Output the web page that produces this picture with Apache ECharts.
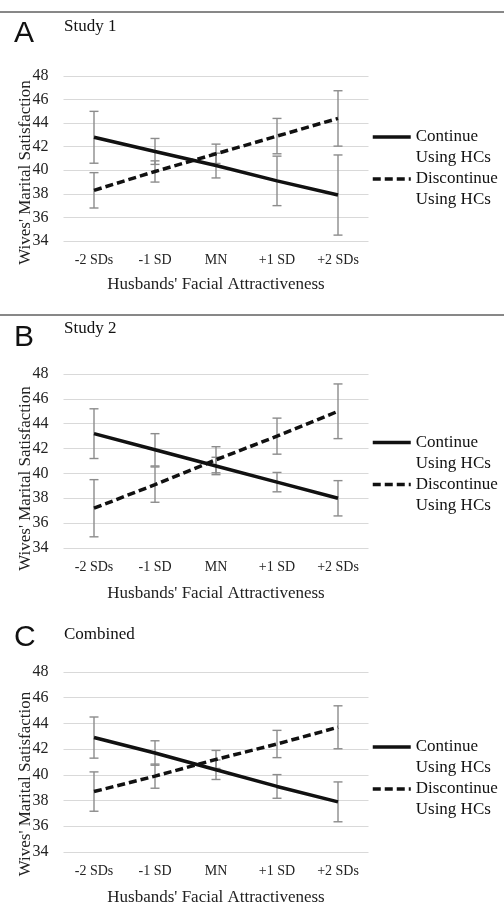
<!DOCTYPE html>
<html>
<head>
<meta charset="utf-8">
<script src="https://cdn.jsdelivr.net/npm/echarts@6/dist/echarts.min.js"></script>
<style>
html,body{margin:0;padding:0;background:#fff;}
#chart{width:504px;height:903px;}
</style>
</head>
<body>
<div id="chart"></div>
<script>
const categories = ['-2 SDs', '-1 SD', 'MN', '+1 SD', '+2 SDs'];
const yMin = 34, yMax = 48, yStep = 2;
const seriesNames = ['Continue\nUsing HCs', 'Discontinue\nUsing HCs'];

const study1Continue = [42.8, 41.6, 40.4, 39.1, 37.9];
const study1ContinueErr = [2.2, 1.1, 1.05, 2.1, 3.4];
const study1Discontinue = [38.3, 39.9, 41.4, 42.9, 44.4];
const study1DiscontinueErr = [1.5, 0.9, 0.82, 1.5, 2.35];

const study2Continue = [43.2, 41.9, 40.6, 39.3, 38.0];
const study2ContinueErr = [2.0, 1.3, 0.7, 0.78, 1.42];
const study2Discontinue = [37.2, 39.1, 41.1, 43.0, 45.0];
const study2DiscontinueErr = [2.3, 1.42, 1.05, 1.45, 2.2];

const combinedContinue = [42.9, 41.7, 40.4, 39.1, 37.9];
const combinedContinueErr = [1.6, 0.95, 0.76, 0.92, 1.55];
const combinedDiscontinue = [38.7, 39.9, 41.2, 42.4, 43.7];
const combinedDiscontinueErr = [1.53, 0.94, 0.7, 1.06, 1.67];

const panelLetters = ['A', 'B', 'C'];
const panelTitles = ['Study 1', 'Study 2', 'Combined'];

const panels = [
  {cont: study1Continue, contErr: study1ContinueErr, disc: study1Discontinue, discErr: study1DiscontinueErr},
  {cont: study2Continue, contErr: study2ContinueErr, disc: study2Discontinue, discErr: study2DiscontinueErr},
  {cont: combinedContinue, contErr: combinedContinueErr, disc: combinedDiscontinue, discErr: combinedDiscontinueErr}
];

// layout
const gridTops = [76, 374, 672];
const gridHeights = [165, 174, 180];
const xNameGaps = [35.5, 37.5, 37.5];
const yNameShift = [28, 35, 44];
const letterTops = [19, 323, 623];
const titleTops = [18, 320, 626];
const legendTops = [105.5, 411, 715.5];
const ruleYs = [12, 315];

const serif = 'Liberation Serif';
const lineColor = '#111';
const errColor = '#8c8c8c';

function errRender(params, api) {
  const x = api.value(0);
  const lo = api.coord([x, api.value(1)]);
  const hi = api.coord([x, api.value(2)]);
  const hw = 4.5;
  const st = {stroke: errColor, lineWidth: 1.4};
  return {
    type: 'group',
    children: [
      {type: 'line', shape: {x1: hi[0], y1: hi[1], x2: lo[0], y2: lo[1]}, style: st},
      {type: 'line', shape: {x1: hi[0] - hw, y1: hi[1], x2: hi[0] + hw, y2: hi[1]}, style: st},
      {type: 'line', shape: {x1: lo[0] - hw, y1: lo[1], x2: lo[0] + hw, y2: lo[1]}, style: st}
    ]
  };
}

function errData(vals, errs) {
  return vals.map((v, i) => [i, v - errs[i], v + errs[i]]);
}

const grid = [], xAxis = [], yAxis = [], series = [], title = [], legend = [];

panels.forEach((p, k) => {
  grid.push({left: 63.5, width: 305, top: gridTops[k], height: gridHeights[k],
    containLabel: false, outerBoundsMode: 'none'});
  xAxis.push({
    type: 'category', gridIndex: k, data: categories, boundaryGap: true,
    axisLine: {show: false}, axisTick: {show: false},
    axisLabel: {margin: 12, fontFamily: serif, fontSize: 14, color: '#222'},
    name: "Husbands' Facial Attractiveness", nameLocation: 'middle', nameGap: xNameGaps[k],
    nameTextStyle: {fontFamily: serif, fontSize: 17, color: '#222'}
  });
  yAxis.push({
    type: 'value', gridIndex: k, min: yMin, max: yMax, interval: yStep,
    axisLine: {show: false}, axisTick: {show: false},
    axisLabel: {margin: 15, fontFamily: serif, fontSize: 16, color: '#222'},
    splitLine: {lineStyle: {color: '#d9d9d9', width: 1}},
    name: "Wives' Marital Satisfaction", nameLocation: 'middle', nameGap: 29, nameRotate: 90,
    nameMoveOverlap: false,
    nameTextStyle: {fontFamily: serif, fontSize: 17, color: '#222', padding: [0, yNameShift[k], 0, 0]}
  });
  series.push({
    type: 'custom', xAxisIndex: k, yAxisIndex: k, renderItem: errRender,
    data: errData(p.cont, p.contErr), encode: {x: 0, y: [1, 2]}, z: 1, silent: true
  });
  series.push({
    type: 'custom', xAxisIndex: k, yAxisIndex: k, renderItem: errRender,
    data: errData(p.disc, p.discErr), encode: {x: 0, y: [1, 2]}, z: 1, silent: true
  });
  series.push({
    name: seriesNames[0], type: 'line', xAxisIndex: k, yAxisIndex: k, data: p.cont,
    symbol: 'none', lineStyle: {color: lineColor, width: 3.5, type: 'solid'},
    itemStyle: {color: lineColor}, z: 3, silent: true
  });
  series.push({
    name: seriesNames[1], type: 'line', xAxisIndex: k, yAxisIndex: k, data: p.disc,
    symbol: 'none', lineStyle: {color: lineColor, width: 3.5, type: [8, 4]},
    itemStyle: {color: lineColor}, z: 3, silent: true
  });
  title.push({
    text: panelLetters[k], left: 14, top: letterTops[k], padding: 0,
    textStyle: {fontFamily: 'Liberation Sans', fontSize: 30, fontWeight: 'normal', color: '#111'}
  });
  title.push({
    text: panelTitles[k], left: 64, top: titleTops[k], padding: 0,
    textStyle: {fontFamily: serif, fontSize: 17, fontWeight: 'normal', color: '#111'}
  });
  legend.push({
    orient: 'vertical', left: 371, top: legendTops[k], padding: 0,
    itemWidth: 38, itemHeight: 14, itemGap: -21, selectedMode: false,
    itemStyle: {opacity: 0},
    lineStyle: {width: 3.5, color: lineColor},
    data: seriesNames.map(n => ({name: n})),
    formatter: n => '\n' + n,
    textStyle: {fontFamily: serif, fontSize: 17, lineHeight: 21, color: '#111'}
  });
});

const graphic = ruleYs.map(y => ({
  type: 'line', shape: {x1: 0, y1: y, x2: 504, y2: y}, style: {stroke: '#111', lineWidth: 1}
}));

const chart = echarts.init(document.getElementById('chart'), null, {renderer: 'canvas'});
chart.setOption({
  animation: false,
  backgroundColor: '#fff',
  title, grid, xAxis, yAxis, series, legend, graphic
});
</script>
</body>
</html>
